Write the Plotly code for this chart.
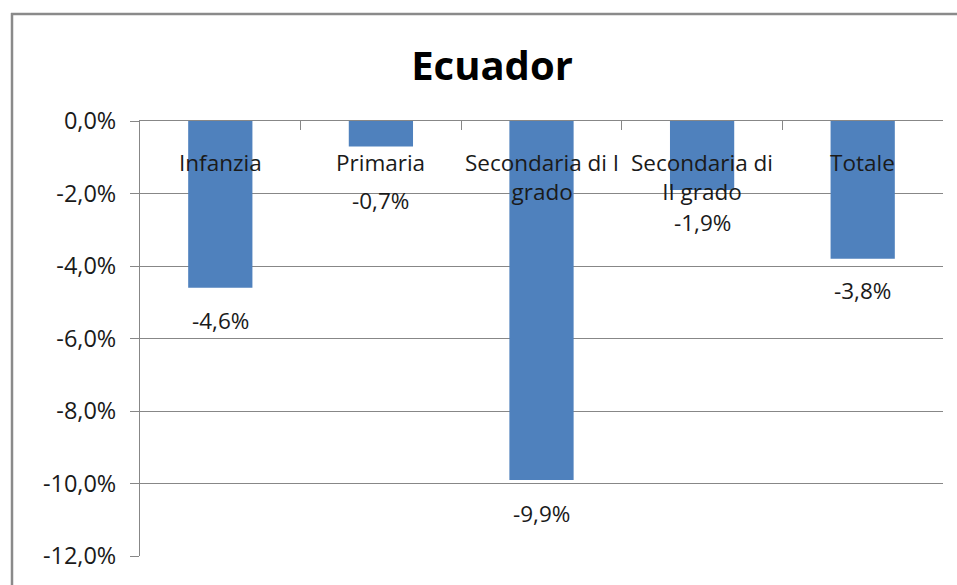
import plotly.graph_objects as go

categories = ["Infanzia", "Primaria", "Secondaria di I grado", "Secondaria di II grado", "Totale"]
axis_labels = ["Infanzia", "Primaria", "Secondaria di I<br>grado", "Secondaria di<br>II grado", "Totale"]
variation = [-0.046, -0.007, -0.099, -0.019, -0.038]
y_ticks = [0, -0.02, -0.04, -0.06, -0.08, -0.10, -0.12]

# pixel offsets of the value labels under the bar ends
label_shift = [-33, -54, -34, -33, -32]

W, H = 957, 585
ML, MR, MT, MB = 140, 14, 121, 29
FONT = "Open Sans"
GRID = "#878787"


def pct(v):
    # excel style: ascii hyphen, comma decimal
    return f"{v*100:.1f}%".replace(".", ",")


def px_x(p):
    return (p - ML) / (W - ML - MR)


def px_y(p):
    return 1 - (p - MT) / (H - MT - MB)


fig = go.Figure(go.Bar(
    x=categories,
    y=variation,
    width=0.4,
    marker=dict(color="#4F81BD", line=dict(width=0)),
    hoverinfo="skip",
))

# category names sit just under the zero line, over the bars
for cat, lab in zip(categories, axis_labels):
    fig.add_annotation(x=cat, y=0, text=lab, showarrow=False, yanchor="top",
                       yshift=-24, font=dict(family=FONT, size=22.5, color="#1a1a1a"))

for cat, v, s in zip(categories, variation, label_shift):
    fig.add_annotation(x=cat, y=v, text=pct(v),
                       showarrow=False, yanchor="middle", yshift=s,
                       font=dict(family=FONT, size=22.5, color="#1a1a1a"))

# outer frame (left and top edges visible)
fig.add_shape(type="line", xref="paper", yref="paper", x0=px_x(12), x1=px_x(12),
              y0=px_y(13), y1=px_y(H + 5), line=dict(color="#8a8a8a", width=2.5))
fig.add_shape(type="line", xref="paper", yref="paper", x0=px_x(11), x1=px_x(W + 5),
              y0=px_y(14), y1=px_y(14), line=dict(color="#8a8a8a", width=2.5))

fig.update_layout(
    width=W, height=H,
    margin=dict(l=ML, r=MR, t=MT, b=MB),
    paper_bgcolor="white", plot_bgcolor="white",
    separators=",.",
    showlegend=False,
    title=dict(text="<b>Ecuador</b>", x=492 / W, xanchor="center",
               y=1 - 66 / H, yanchor="middle", xref="container", yref="container",
               font=dict(family=FONT, size=40, color="#000000")),
)

fig.update_xaxes(
    side="top", showline=True, linecolor=GRID, linewidth=1,
    ticks="inside", ticklen=9, tickcolor=GRID, tickson="boundaries",
    showticklabels=False, showgrid=False,
)
fig.update_yaxes(
    range=[-0.12, 0], tickvals=y_ticks, ticktext=[pct(t) for t in y_ticks],
    showline=True, linecolor=GRID, linewidth=1,
    ticks="outside", ticklen=9, tickcolor=GRID, ticklabelstandoff=9,
    showgrid=True, gridcolor=GRID, gridwidth=1, zeroline=False,
    tickfont=dict(family=FONT, size=23.5, color="#1a1a1a"),
)

fig.write_html("out.html", config={"displayModeBar": False},
               post_script="document.body.style.margin='0';")
